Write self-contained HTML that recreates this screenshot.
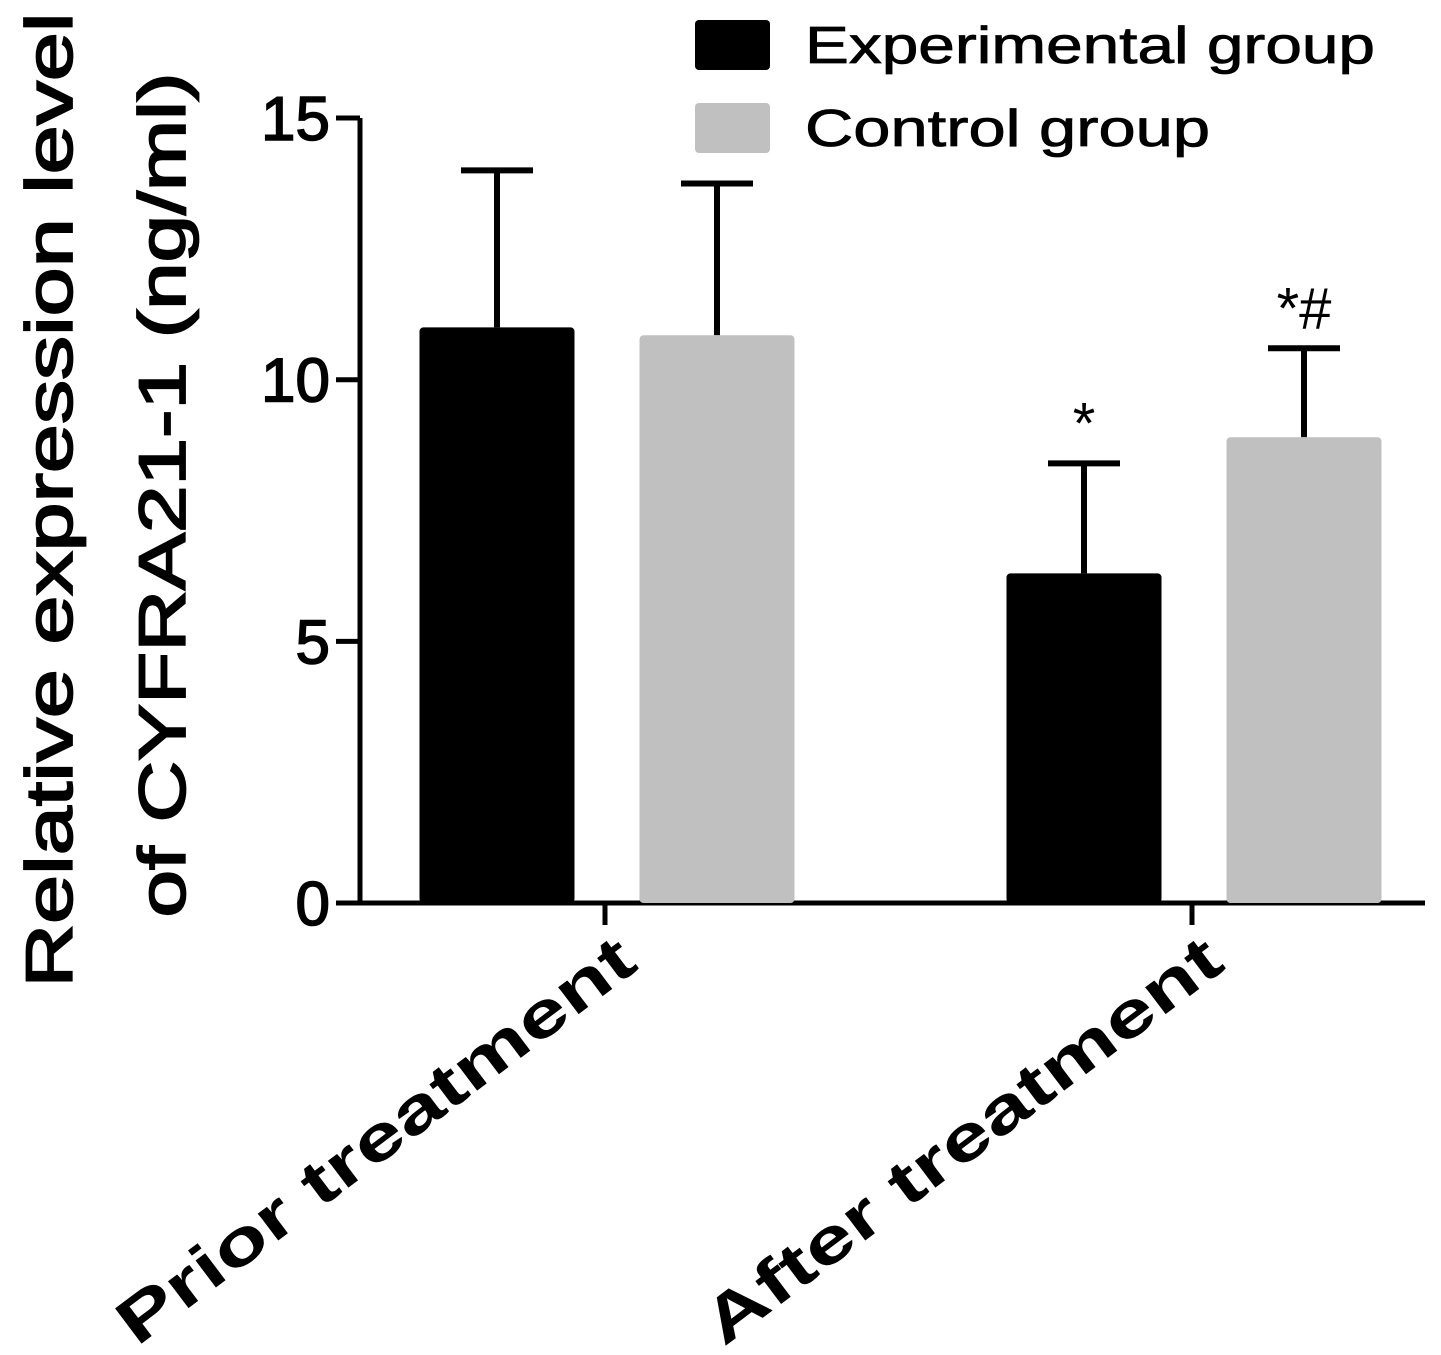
<!DOCTYPE html>
<html><head><meta charset="utf-8"><style>
html,body{margin:0;padding:0;background:#fff;}
svg{display:block;font-family:"Liberation Sans",Arial,sans-serif;}
</style></head><body>
<svg id="chart" width="1441" height="1355" viewBox="0 0 1441 1355">
<g id="axes"></g>
<g id="bars"></g>
<g id="labels"></g>
</svg>
<script>
const categories = ["Prior treatment", "After treatment"];
const seriesNames = ["Experimental group", "Control group"];
const expMeans = [11.0, 6.3];
const expErr = [14.0, 8.4];
const ctlMeans = [10.85, 8.9];
const ctlErr = [13.75, 10.6];
const yTicks = [0, 5, 10, 15];
const annotations = ["", "", "*", "*#"];

const NS = "http://www.w3.org/2000/svg";
const gAx = document.getElementById('axes'), gB = document.getElementById('bars'), gL = document.getElementById('labels');
function y(v){ return 903 - v * 52.33; }
const catCenter = [605, 1192];
const barOffset = [-108, 112];
const barW = 155;
function mk(tag, attrs, parent){ const e=document.createElementNS(NS,tag); for(const k in attrs) e.setAttribute(k, attrs[k]); parent.appendChild(e); return e; }

let yl = mk('line',{x1:360,y1:y(15),x2:360,y2:905,stroke:'#000','stroke-width':5},gAx);


let xl = mk('line',{x1:358,y1:903,x2:1425,y2:903,stroke:'#000','stroke-width':5},gAx);


yTicks.forEach(t=>{
  const tk = mk('line',{x1:336,y1:y(t),x2:360,y2:y(t),stroke:'#000','stroke-width':5},gAx);
  
  
  const tl = mk('text',{x:330,y:y(t)+22,'text-anchor':'end','font-size':62,stroke:'#000','stroke-width':1.6},gAx);
  tl.textContent = t;
  
  
});
categories.forEach((c,i)=>{
  const tk = mk('line',{x1:catCenter[i],y1:903,x2:catCenter[i],y2:925,stroke:'#000','stroke-width':5},gAx);
  
  
  const ex = catCenter[i]+35, ey = 968;
  const tl = mk('text',{x:ex,y:ey,'text-anchor':'end','font-size':64,'font-weight':'bold',transform:`rotate(-37 ${ex} ${ey})`,textLength:630,lengthAdjust:'spacingAndGlyphs'},gAx);
  tl.textContent = c;
  
  
});

const colors = ['#000000','#c0c0c0'];
const means = [expMeans, ctlMeans], errs = [expErr, ctlErr];
let ai = 0;
categories.forEach((c,i)=>{
  [0,1].forEach(s=>{
    const cx = catCenter[i] + barOffset[s];
    const top = y(means[s][i]);
    const et = y(errs[s][i]);
    const el = mk('line',{x1:cx,y1:top,x2:cx,y2:et,stroke:'#000','stroke-width':6},gB);
    
    
    const cap = mk('line',{x1:cx-36,y1:et,x2:cx+36,y2:et,stroke:'#000','stroke-width':6},gB);
    
    
    const r = mk('rect',{x:cx-barW/2,y:top,width:barW,height:903-top,fill:colors[s],rx:4},gB);
    
    
    const a = annotations[ai++];
    if(a){
      const at = mk('text',{x:cx,y:et-20,'text-anchor':'middle','font-size':58},gB);
      at.textContent = a;
      
      
    }
  });
});

seriesNames.forEach((n,i)=>{
  const ly = 20 + i*83;
  const sw = mk('rect',{x:695,y:ly,width:75,height:50,fill:colors[i],rx:4},gL);
  
  
  const t = mk('text',{x:805,y:ly+43,'font-size':52,stroke:'#000','stroke-width':0.8},gL);
  t.textContent = n;
  t.setAttribute('textLength', i===0?570:405);
  t.setAttribute('lengthAdjust','spacingAndGlyphs');
  
  
});

const t1 = mk('text',{x:0,y:0,'text-anchor':'middle','font-size':66,stroke:'#000','stroke-width':1.8,transform:'translate(72 500) rotate(-90)',textLength:975,lengthAdjust:'spacingAndGlyphs'},gL);
t1.textContent = 'Relative expression level';


const t2 = mk('text',{x:0,y:0,'text-anchor':'middle','font-size':66,stroke:'#000','stroke-width':1.8,transform:'translate(185 495) rotate(-90)',textLength:845,lengthAdjust:'spacingAndGlyphs'},gL);
t2.textContent = 'of CYFRA21-1 (ng/ml)';


</script>
</body></html>
